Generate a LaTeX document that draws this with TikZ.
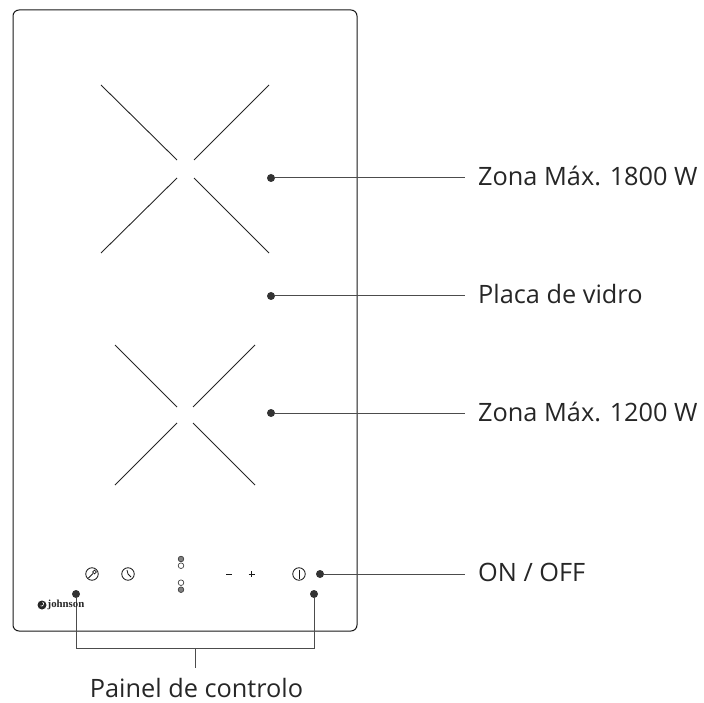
\documentclass[tikz,border=0pt]{standalone}
\usepackage{fontspec}
\setmainfont{Open Sans}
\newfontfamily\serifb{Liberation Serif}[Scale=1]
\tikzset{
  x=1pt,y=-1pt,
  plate/.style={draw=black!90,line width=1pt,rounded corners=6pt},
  burner/.style={draw=black!85,line width=0.9pt},
  dotn/.style={circle,fill=black!80,inner sep=0pt,minimum size=8pt},
  leader/.style={draw=black!70,line width=1pt},
  lab/.style={inner sep=0pt,anchor=base west,font=\fontsize{25.3}{28}\selectfont,text=black!85},
  icon/.style={draw=black!90,line width=0.8pt,fill=white},
  led/.style={circle,draw=black!75,line width=0.7pt,minimum size=5.6pt,inner sep=0pt},
  ledon/.style={led,fill=black!50}
}
\begin{document}
\begin{tikzpicture}
\useasboundingbox (0,0) rectangle (704,703);
\draw[plate] (13,10) rectangle (357,631);
% upper burner
\draw[burner] (101,85) -- (177,160);
\draw[burner] (269,85) -- (194,160);
\draw[burner] (101,253) -- (177,178);
\draw[burner] (269,253) -- (194,178);
% lower burner
\draw[burner] (115,345) -- (177,407);
\draw[burner] (255,345) -- (193,407);
\draw[burner] (115,485) -- (177,423);
\draw[burner] (255,485) -- (193,423);
% dots and labels
\node[dotn] (d1) at (271,178) {};
\node[dotn] (d2) at (271,296) {};
\node[dotn] (d3) at (271,413) {};
\node[dotn] (d4) at (320,574) {};
\node[dotn] (d5) at (76,594) {};
\node[dotn] (d6) at (314,594) {};
\node[lab] (l1) at (478,186) {Zona Máx. 1800 W};
\node[lab] (l2) at (478,304) {Placa de vidro};
\node[lab] (l3) at (478,421) {Zona Máx. 1200 W};
\node[lab] (l4) at (478,581.5) {ON / OFF};
\node[lab,anchor=base] (l5) at (196.5,697) {Painel de controlo};
\coordinate (e1) at (465,178);
\coordinate (e2) at (465,296);
\coordinate (e3) at (465,413);
\coordinate (e4) at (465,574);
\draw[leader] (d1) -- (e1);
\draw[leader] (d2) -- (e2);
\draw[leader] (d3) -- (e3);
\draw[leader] (d4) -- (e4);
\coordinate (b5) at (76,648.5);
\coordinate (b6) at (314,648.5);
\coordinate (bm) at (195,648.5);
\coordinate (bt) at (195,667.5);
\draw[leader] (d5) -- (b5) -- (b6) -- (d6);
\draw[leader] (bm) -- (bt);
% icons
\node[circle,icon,minimum size=12.5pt,inner sep=0pt] (i1) at (92,574) {};
\draw[line width=0.8pt,draw=black!90] (88.5,578) -- (93,573.5);
\draw[line width=0.8pt,draw=black!90] (94.5,572) circle (1.9pt);
\node[circle,icon,minimum size=12.5pt,inner sep=0pt] (i2) at (128,574) {};
\draw[line width=0.8pt,draw=black!90] (127,570) -- (128,574) -- (131,577);
\node[circle,icon,minimum size=12.5pt,inner sep=0pt] (i3) at (299,574) {};
\draw[line width=0.8pt,draw=black!90] (299,569.5) -- (299,578.5);
\node[ledon] (a1) at (181,559) {};
\node[led] (a2) at (181,565.7) {};
\node[led] (a3) at (181,582.7) {};
\node[ledon] (a4) at (181,589.7) {};
\draw[line width=1pt,draw=black!90] (226,574) -- (232,574);
\draw[line width=1pt,draw=black!90] (248.5,574) -- (254.5,574) (251.5,571) -- (251.5,577);
% logo
\node[circle,fill=black!85,minimum size=9pt,inner sep=0pt] (lg) at (42,605) {};
\draw[white,line width=0.6pt] (42.5,602) arc (60:-120:2.2pt);
\node[inner sep=0pt,anchor=west,font=\serifb\bfseries\fontsize{10.8}{12}\selectfont,text=black!85] (jn) at (47.5,605) {johnson};
\end{tikzpicture}
\end{document}
